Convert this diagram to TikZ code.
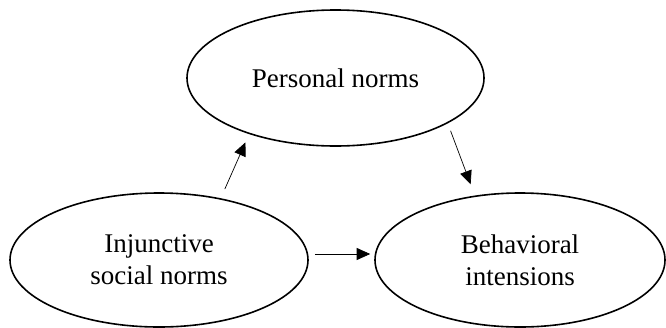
\documentclass[tikz,border=0pt]{standalone}
\usepackage{fontspec}
\setmainfont{Liberation Serif}
\usetikzlibrary{shapes.geometric,arrows.meta}
\begin{document}
\begin{tikzpicture}[x=1pt,y=-1pt,
  oval/.style={draw,ellipse,line width=1.6pt,inner sep=0pt,align=center,
    font=\fontsize{27}{32}\selectfont},
  arr/.style={line width=0.7pt,-{Triangle[length=13.5pt,width=12pt]}}]
\useasboundingbox (0,0) rectangle (666,327);
\node[oval,minimum width=297pt,minimum height=136pt] (pn) at (335.5,78) {Personal norms};
\node[oval,minimum width=298pt,minimum height=134pt] (inj) at (159,260) {Injunctive\\social norms};
\node[oval,minimum width=290pt,minimum height=134pt] (bi) at (520,260) {Behavioral\\intensions};
\draw[arr,shorten <=10pt,shorten >=9pt] (inj.45) -- (pn.213);
\draw[arr,shorten <=8pt,shorten >=12pt] (pn.338) -- (bi.125);
\draw[arr,shorten <=6pt,shorten >=4pt] ([yshift=6pt]inj.east) -- ([yshift=6pt]bi.west);
\end{tikzpicture}
\end{document}
